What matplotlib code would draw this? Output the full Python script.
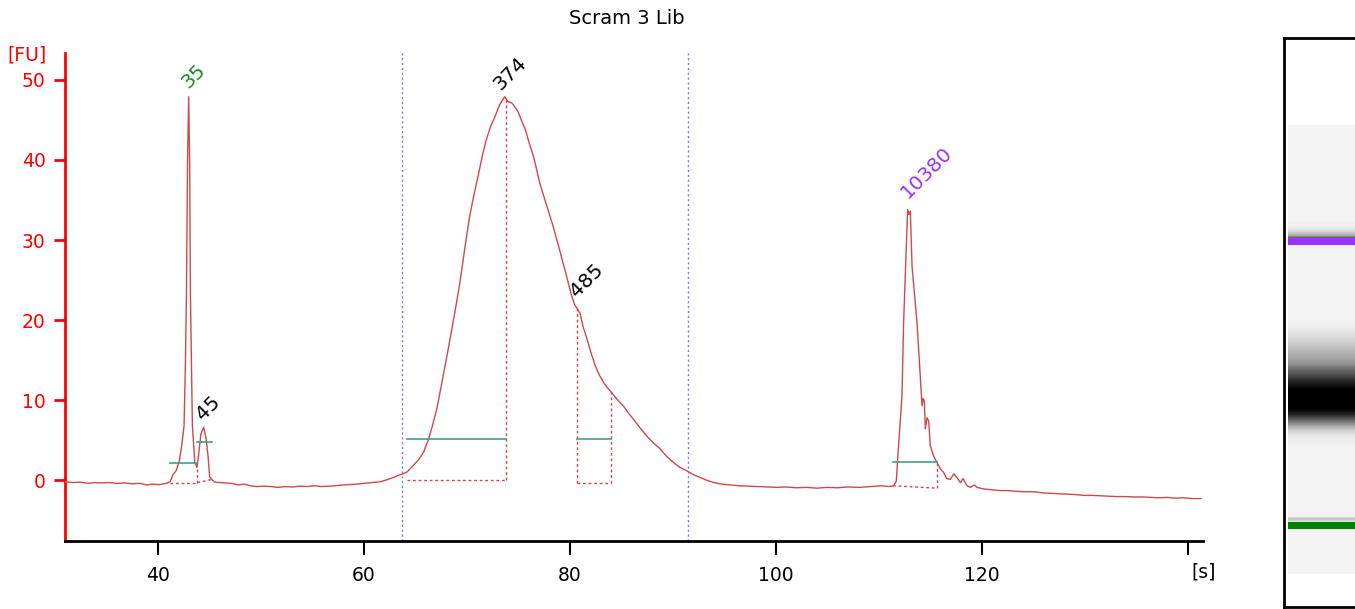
import numpy as np
import matplotlib
matplotlib.use("Agg")
import matplotlib.pyplot as plt

plt.rcParams['font.family'] = ['DejaVu Sans']

# ---------------- data ----------------
time_s = [
    31.0, 31.8, 32.5, 33.3, 33.8, 34.5, 35.2, 36.0, 36.8, 37.5, 38.3, 38.9, 39.5, 40.2, 40.8,
    41.2, 41.5, 41.8, 42.1, 42.35, 42.56, 42.7, 42.79, 42.9, 43.01, 43.1, 43.18, 43.37, 43.6,
    43.82, 44.0, 44.2, 44.47, 44.7, 44.89, 45.05, 45.3, 45.54, 46.0, 46.6, 47.2, 47.8, 48.4,
    49.0, 49.6, 50.3, 51.0, 51.7, 52.4, 53.1, 53.8, 54.5, 55.2, 55.9, 56.6, 57.3, 58.0, 58.7,
    59.3, 60.0, 60.8, 61.6, 62.4, 63.2, 64.2, 64.8, 65.3, 65.8, 66.3, 66.7, 67.1, 67.6, 68.2,
    68.9, 69.35, 69.8, 70.3, 70.7, 71.1, 71.5, 71.9, 72.3, 72.75, 73.2, 73.7, 74.0, 74.4, 74.7,
    75.0, 75.3, 75.7, 76.1, 76.5, 76.8, 77.1, 77.8, 78.4, 79.1, 79.7, 80.2, 80.5, 81.0, 81.3,
    81.7, 82.1, 82.5, 82.9, 83.3, 83.7, 84.1, 84.6, 85.2, 85.7, 86.2, 86.8, 87.5, 88.1, 88.8,
    89.4, 90.1, 90.7, 91.4, 92.0, 92.7, 93.3, 94.0, 94.8, 95.6, 96.5, 97.4, 98.3, 99.2, 100.1,
    101.0, 102.0, 103.0, 104.0, 105.0, 106.0, 107.0, 108.2, 109.3, 110.3, 111.0, 111.46, 111.72,
    111.85, 112.27, 112.43, 112.6, 112.82, 112.95, 113.08, 113.25, 113.5, 113.73, 114.05, 114.22,
    114.33, 114.44, 114.54, 114.7, 114.86, 115.02, 115.35, 115.67, 116.0, 116.32, 116.6, 116.97,
    117.3, 117.62, 117.94, 118.2, 118.59, 118.9, 119.3, 119.56, 120.2, 121.0, 121.8, 122.6,
    123.4, 124.2, 125.1, 126.0, 126.9, 127.6, 128.3, 129.1, 129.9, 130.7, 131.5, 132.3, 133.1,
    134.0, 134.8, 135.6, 136.4, 137.2, 138.0, 138.8, 139.6, 140.4, 141.3,
]
fu_values = [
    -0.2, -0.3, -0.25, -0.4, -0.3, -0.35, -0.3, -0.4, -0.35, -0.45, -0.4, -0.6, -0.5, -0.55, -0.4,
    -0.2, 0.7, 1.2, 2.4, 4.5, 6.8, 15.0, 23.0, 40.0, 47.9, 40.0, 23.0, 6.8, 2.2,
    1.6, 3.5, 5.8, 6.6, 5.2, 3.0, 0.4, 0.0, -0.25, -0.3, -0.35, -0.4, -0.6, -0.5,
    -0.7, -0.8, -0.75, -0.8, -0.9, -0.8, -0.85, -0.75, -0.8, -0.7, -0.8, -0.75, -0.7, -0.6, -0.55,
    -0.5, -0.4, -0.3, -0.2, 0.1, 0.5, 1.0, 1.8, 2.5, 3.45, 5.1, 6.9, 8.9, 12.2, 16.3,
    21.3, 24.7, 28.8, 33.0, 35.6, 37.9, 40.4, 42.5, 44.1, 45.4, 46.9, 47.9, 47.3, 47.1, 46.6,
    46.0, 45.0, 43.8, 42.0, 40.4, 38.8, 37.1, 34.2, 31.7, 28.4, 25.5, 23.0, 21.9, 20.9, 19.2,
    17.6, 15.8, 14.25, 13.1, 12.2, 11.5, 10.9, 10.1, 9.3, 8.4, 7.6, 6.6, 5.5, 4.7, 3.9,
    3.0, 2.2, 1.6, 1.16, 0.7, 0.33, 0.0, -0.3, -0.5, -0.6, -0.7, -0.75, -0.8, -0.85, -0.9,
    -0.85, -0.95, -0.9, -1.0, -0.9, -0.95, -0.85, -0.9, -0.8, -0.7, -0.8, -0.7, -0.1,
    2.6, 10.5, 19.7, 25.9, 33.8, 33.2, 33.6, 26.7, 23.0, 19.7, 13.0, 9.3,
    10.2, 9.9, 6.4, 7.8, 7.4, 4.3, 3.0, 2.2, 1.4, 0.96, 0.2, 0.1,
    0.8, 0.3, -0.3, 0.2, -0.7, -0.9, -0.6, -0.9, -1.1, -1.2, -1.3, -1.3,
    -1.4, -1.45, -1.45, -1.6, -1.65, -1.7, -1.75, -1.8, -1.9, -1.9, -1.95, -2.0, -2.05,
    -2.05, -2.1, -2.1, -2.15, -2.2, -2.15, -2.25, -2.2, -2.3, -2.3,
]

# peaks: label, apex time, apex FU, label colour
peak_labels = ['35', '45', '374', '485', '10380']
peak_times = [43.01, 44.47, 73.72, 80.52, 112.82]
peak_fu = [47.9, 6.6, 47.9, 21.9, 33.8]
peak_colors = ['#1e8a1e', 'black', 'black', 'black', '#9933ff']

# integration windows of each peak (start, end, baseline at start/end, marker level)
win_start = [41.2, 43.85, 64.2, 80.7, 111.4]
win_end = [43.8, 45.3, 73.8, 84.0, 115.67]
win_base_start = [-0.3, -0.3, 0.0, -0.3, -0.7]
win_base_end = [-0.3, 0.1, 0.0, -0.3, -1.0]
win_level = [2.1, 4.8, 5.1, 5.1, 2.3]
win_top_start = [None, None, None, 21.5, None]
win_top_end = [1.6, None, 47.9, 11.0, 2.3]

# region-of-interest borders
region_lines = [63.7, 91.5]

# gel markers: time and colour
marker_times = [43.01, 112.9]
marker_colors = ['#008000', '#9933ff']

x_ticks = [40, 60, 80, 100, 120, 140]
x_tick_labels = ['40', '60', '80', '100', '120', '']
y_ticks = [0, 10, 20, 30, 40, 50]
x_limits = (31.0, 141.5)
y_limits = (-7.6, 53.4)

# ---------------- figure ----------------
W, H = 1355, 609
fig = plt.figure(figsize=(W / 100, H / 100), dpi=100)

ax_l, ax_r, ax_b, ax_t = 65, 1203, 541, 52.7
ax = fig.add_axes([ax_l / W, 1 - ax_b / H, (ax_r - ax_l) / W, (ax_b - ax_t) / H])

trace_color = '#d04848'
ax.plot(time_s, fu_values, color=trace_color, lw=1.0, zorder=3)

for xv in region_lines:
    ax.axvline(xv, color='#7878e0', lw=1.0, ls=(0, (1.5, 2)), zorder=1)

dot = (0, (2, 2))
for i in range(len(win_start)):
    s, e = win_start[i], win_end[i]
    ax.plot([s, e], [win_base_start[i], win_base_end[i]], color='#e04040', lw=1.0, ls=dot, zorder=2)
    if win_top_start[i] is not None:
        ax.plot([s, s], [win_base_start[i], win_top_start[i]], color='#e04040', lw=1.0, ls=dot, zorder=2)
    if win_top_end[i] is not None:
        ax.plot([e, e], [win_base_end[i], win_top_end[i]], color='#e04040', lw=1.0, ls=dot, zorder=2)
    ax.plot([s, e], [win_level[i], win_level[i]], color='#4a9a8a', lw=1.2, zorder=4)

label_offsets = [(3, 5), (2, 4), (-2, 3), (5, 4), (3, 8)]
for lab, pt, pv, pc, off in zip(peak_labels, peak_times, peak_fu, peak_colors, label_offsets):
    ax.annotate(lab, xy=(pt, pv), xytext=off, textcoords='offset pixels',
                rotation=45, rotation_mode='anchor', ha='left', va='bottom',
                color=pc, fontsize=14.5, zorder=5)

ax.set_xlim(*x_limits)
ax.set_ylim(*y_limits)
ax.set_xticks(x_ticks)
ax.set_xticklabels(x_tick_labels)
ax.set_yticks(y_ticks)

for side in ['top', 'right']:
    ax.spines[side].set_visible(False)
ax.spines['left'].set_color('red')
ax.spines['left'].set_linewidth(2)
ax.spines['bottom'].set_color('black')
ax.spines['bottom'].set_linewidth(2)
ax.tick_params(axis='y', colors='red', length=8, width=2, labelsize=13.5, pad=6)
ax.tick_params(axis='x', colors='black', length=10, width=1.5, labelsize=13.5, pad=8)

fig.text(627 / W, 1 - 18 / H, 'Scram 3 Lib', ha='center', va='center', fontsize=14)
fig.text(27 / W, 1 - 55 / H, '[FU]', ha='center', va='center', fontsize=13.5, color='red')
fig.text(1204 / W, 1 - 572 / H, '[s]', ha='center', va='center', fontsize=13.5, color='black')

# ---------------- gel lane ----------------
g_l, g_r, g_b, g_t = 1284, 1364, 607, 38
gax = fig.add_axes([g_l / W, 1 - g_b / H, (g_r - g_l) / W, (g_b - g_t) / H])
px_per_s = (525.5 - 241.5) / (marker_times[1] - marker_times[0])
t_bottom = marker_times[0] - (g_b - 525.5) / px_per_s
t_top = marker_times[0] + (525.5 - g_t) / px_per_s
gax.set_ylim(t_bottom, t_top)
gax.set_xlim(0, 1)
lane_x0 = 4 / (g_r - g_l)

tg = np.linspace(time_s[0], time_s[-1], 800)
vg = np.interp(tg, time_s, fu_values)
gray = 0.955 * (1 - np.clip(vg / 42.0, 0, 1)) ** 1.3
img = np.repeat(gray[:, None], 2, axis=1)
gax.imshow(img, cmap='gray', vmin=0, vmax=1, aspect='auto', origin='lower',
           extent=[lane_x0, 1, time_s[0], time_s[-1]], interpolation='bilinear')
band_h = 7 / px_per_s
for mt, mc in zip(marker_times, marker_colors):
    gax.barh(mt, 1 - lane_x0, left=lane_x0, height=band_h, color=mc, zorder=3)
gax.set_xticks([])
gax.set_yticks([])
for side in ['left', 'top', 'bottom']:
    gax.spines[side].set_linewidth(2)
    gax.spines[side].set_color('black')
gax.spines['right'].set_visible(False)

fig.savefig('out.png', dpi=100)
